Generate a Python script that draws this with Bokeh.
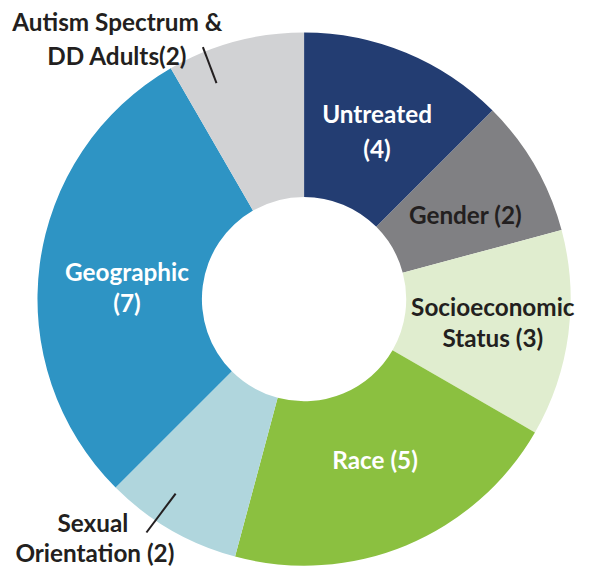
import math
from bokeh.plotting import figure
from bokeh.models import Range1d, ColumnDataSource
from bokeh.core.properties import value
from bokeh.embed import file_html
from bokeh.resources import INLINE

# ---- data ----
categories = ["Untreated", "Gender", "Socioeconomic Status", "Race",
              "Sexual Orientation", "Geographic", "Autism Spectrum & DD Adults"]
counts = [4, 2, 3, 5, 2, 7, 2]          # numbers printed in the labels
share = [3, 2, 3, 5, 2, 7, 2]           # wedge sizes as drawn
label_lines = [["Untreated", "(4)"], ["Gender (2)"], ["Socioeconomic", "Status (3)"],
               ["Race (5)"], ["Sexual", "Orientation (2)"], ["Geographic", "(7)"],
               ["Autism Spectrum &", "DD Adults(2)"]]

# ---- styles / layout ----
colors = ["#233d72", "#808083", "#e0edcf", "#8bc040", "#b0d6dd", "#2e94c4", "#d1d2d4"]
text_colors = ["white", "#231f20", "#231f20", "white", "#231f20", "white", "#231f20"]
# label line centres, relative to chart centre (x right, y up)
label_pos = [[(75, 191), (75, 155)], [(166, 87)], [(194, -8), (194, -40)],
             [(73, -165)], [(-217, -230), (-215, -261)], [(-182, 28), (-182, -3)],
             [(-192, 285), (-192, 250)]]
leaders = [((-162, -240), (-132, -200)), ((-104, 259), (-90, 222))]
R_OUT, R_IN = 274, 105

W, H = 576, 568
SPAN_X, SPAN_Y = 592, 584   # chart space shown
CX, CY = 312, 307           # centre within that space (from top-left)
SCALE = W / SPAN_X

p = figure(width=W, height=H, output_backend="svg", toolbar_location=None,
           x_range=Range1d(-CX, SPAN_X - CX), y_range=Range1d(-(SPAN_Y - CY), CY),
           min_border=0)
p.axis.visible = False
p.grid.visible = False
p.outline_line_color = None
p.background_fill_color = "white"

total = sum(share)
starts, ends = [], []
a = math.pi / 2
for s in share:
    starts.append(a)
    a -= s / total * 2 * math.pi
    ends.append(a)

src = ColumnDataSource(dict(start=starts, end=ends, color=colors, cat=categories))
p.annular_wedge(x=0, y=0, inner_radius=R_IN, outer_radius=R_OUT,
                start_angle="start", end_angle="end", direction="clock",
                fill_color="color", line_color=None, source=src)

xs, ys, ts, cs = [], [], [], []
for lines, poss, tc in zip(label_lines, label_pos, text_colors):
    for t, (lx, ly) in zip(lines, poss):
        xs.append(lx); ys.append(ly); ts.append(t); cs.append(tc)
p.text(x=xs, y=ys, text=ts, text_color=cs, text_font=value("Lato"),
       text_font_style="bold", text_font_size=f"{25 * SCALE:.1f}px",
       text_align="center", text_baseline="middle")

for (x0, y0), (x1, y1) in leaders:
    p.segment(x0=x0, y0=y0, x1=x1, y1=y1, line_color="#231f20", line_width=2)

open("out.html", "w").write(file_html(p, INLINE))
